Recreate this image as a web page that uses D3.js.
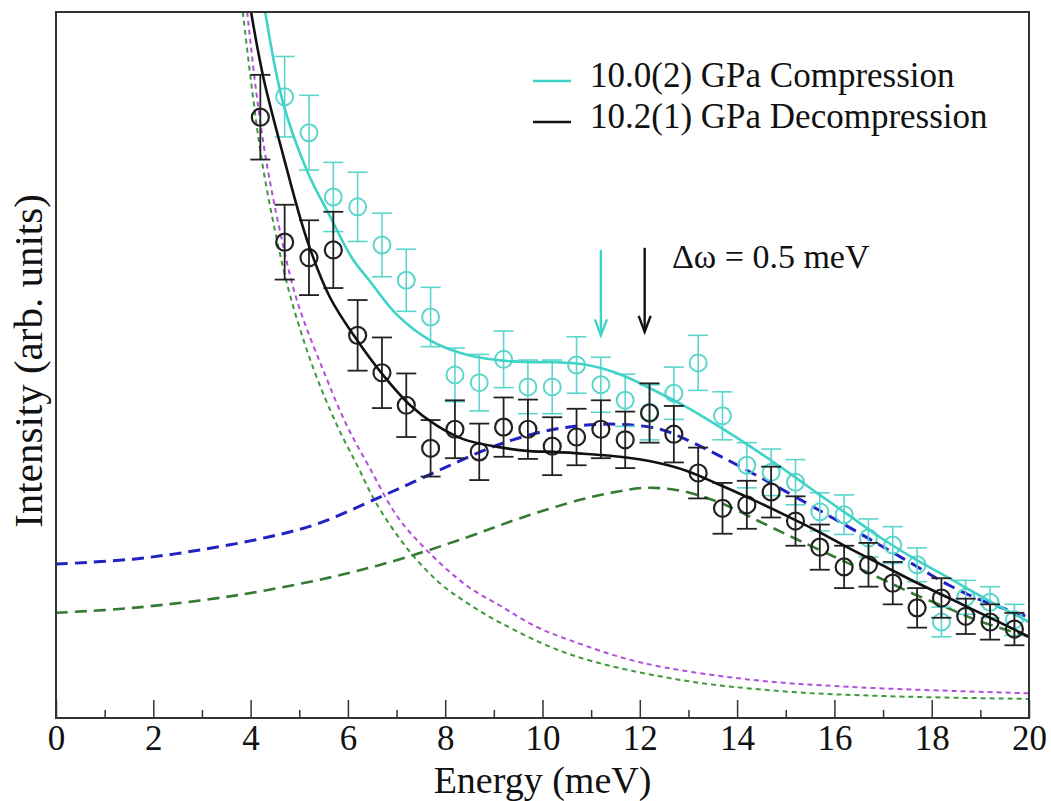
<!DOCTYPE html>
<html lang="en">
<head>
<meta charset="UTF-8">
<title>Intensity vs Energy</title>
<script src="https://d3js.org/d3.v7.min.js"></script>
<style>
  body { margin: 0; background: #fff; }
  text { font-family: "Liberation Serif", "Times New Roman", serif; fill: #111; }
  .tick text { font-size: 35px; }
  .x-label { font-size: 38px; }
  .y-label { font-size: 41px; }
  .legend text { font-size: 35px; }
  .note { font-size: 34px; }
</style>
</head>
<body>
<div id="chart"></div>
<script>
// ---- data (intensity in arbitrary units, 0..100 spans the plot) ----
const energyBlack = [4.2, 4.7, 5.2, 5.7, 6.2, 6.7, 7.2, 7.7, 8.2, 8.7, 9.2, 9.7, 10.2, 10.7, 11.2, 11.7,
                     12.2, 12.7, 13.2, 13.7, 14.2, 14.7, 15.2, 15.7, 16.2, 16.7, 17.2, 17.7, 18.2, 18.7, 19.2, 19.7];
const intensityBlack = [85.1, 67.4, 65.2, 66.3, 54.2, 48.9, 44.3, 38.2, 40.9, 37.7, 41.2, 40.9, 38.5, 39.8, 40.9, 39.4,
                        43.2, 40.2, 34.7, 29.7, 30.2, 32.0, 27.9, 24.2, 21.4, 21.7, 19.1, 15.6, 17.0, 14.4, 13.6, 12.6];
const errorBlack = [6.0, 5.3, 5.3, 5.4, 5.0, 5.0, 4.5, 4.0, 4.1, 4.0, 4.2, 4.2, 4.1, 4.0, 4.1, 4.0,
                    4.2, 4.0, 3.6, 3.6, 3.4, 3.6, 3.5, 3.2, 3.0, 3.1, 3.0, 2.8, 2.8, 2.5, 2.5, 2.3];

const energyCyan = [4.7, 5.2, 5.7, 6.2, 6.7, 7.2, 7.7, 8.2, 8.7, 9.2, 9.7, 10.2, 10.7, 11.2, 11.7, 12.2,
                    12.7, 13.2, 13.7, 14.2, 14.7, 15.2, 15.7, 16.2, 16.7, 17.2, 17.7, 18.2, 18.7, 19.2, 19.7];
const intensityCyan = [88.0, 82.9, 73.8, 72.4, 67.0, 62.0, 56.8, 48.6, 47.5, 50.8, 46.9, 46.9, 50.0, 47.2, 45.0, 43.3,
                       46.0, 50.3, 42.8, 35.8, 34.8, 33.4, 29.2, 28.8, 25.5, 24.5, 21.7, 13.6, 17.1, 16.4, 13.9];
const errorCyan = [5.7, 5.3, 4.9, 4.9, 4.5, 4.4, 4.2, 3.8, 4.0, 4.0, 3.8, 3.8, 4.0, 3.9, 3.7, 3.9,
                   3.7, 3.9, 3.4, 3.2, 3.3, 3.2, 2.7, 2.8, 2.7, 2.6, 2.4, 2.1, 2.4, 2.2, 2.2];

// fitted curves
const fitCyanE = [4.30, 4.67, 5.18, 5.63, 6.08, 6.45, 7.01, 7.69, 8.37, 9.07, 9.74, 10.22, 10.92, 11.59, 12.27,
                  12.97, 13.65, 14.33, 15.03, 15.70, 16.28, 16.96, 17.66, 18.36, 19.05, 20];
const fitCyanI = [100, 87.1, 77.2, 71.1, 65.2, 61.9, 57.1, 53.5, 51.6, 50.7, 50.4, 50.4, 50.0, 48.7, 46.5,
                  44.0, 41.2, 38.2, 34.9, 31.6, 28.8, 25.5, 22.5, 19.8, 17.1, 13.6];

const fitBlackE = [4.01, 4.26, 4.67, 5.16, 5.63, 6.19, 6.72, 7.28, 7.83, 8.37, 9.07, 9.74, 10.22, 10.92, 11.59,
                   12.27, 12.97, 13.65, 14.33, 15.03, 15.70, 16.26, 16.94, 17.62, 18.32, 18.99, 20];
const fitBlackI = [100, 90.8, 79.7, 67.7, 59.6, 53.5, 48.6, 44.3, 41.4, 39.5, 38.4, 37.8, 37.7, 37.4, 37.0,
                   36.3, 35.0, 33.0, 30.9, 28.6, 26.3, 24.2, 21.8, 19.4, 17.1, 14.9, 11.5];

const inelBlueE = [0, 1.58, 2.96, 4.34, 5.37, 6.66, 7.34, 8.04, 8.72, 9.39, 10.09, 10.77, 11.59, 12.42, 13.03,
                   13.65, 14.47, 15.36, 16.28, 16.96, 17.66, 18.36, 19.05, 20];
const inelBlueI = [21.8, 22.5, 23.8, 25.6, 27.5, 31.3, 33.4, 35.6, 37.7, 39.4, 40.7, 41.4, 41.6, 40.9, 39.2,
                   37.1, 34.1, 30.7, 27.1, 24.4, 21.6, 18.8, 16.6, 14.3];

const inelGreenE = [0, 1.58, 3.64, 5.69, 7.07, 8.45, 9.54, 10.77, 11.49, 12.11, 12.83, 13.65, 14.47, 15.29,
                    16.26, 16.94, 17.62, 18.32, 18.99, 20];
const inelGreenI = [14.9, 15.6, 17.3, 20.0, 22.5, 25.6, 28.3, 30.9, 32.0, 32.6, 32.2, 30.5, 27.8, 25.1,
                    22.0, 19.8, 17.6, 15.6, 13.7, 11.5];

const qeMagentaE = [3.93, 4.11, 4.32, 4.60, 4.95, 5.49, 5.98, 6.45, 7.01, 7.63, 8.45, 9.13, 9.85, 10.57,
                    12.00, 14.18, 16.34, 20];
const qeMagentaI = [100, 89.0, 79.0, 69.1, 59.2, 49.3, 41.4, 35.4, 28.6, 23.7, 18.7, 15.9, 13.0, 11.0,
                    7.9, 5.5, 4.4, 3.5];

const qeGreenE = [3.84, 4.03, 4.23, 4.50, 4.81, 5.28, 5.78, 6.19, 6.60, 7.28, 7.89, 8.45, 9.13, 10.57,
                  12.74, 14.90, 17.06, 20];
const qeGreenI = [100, 89.0, 79.0, 69.1, 59.9, 49.7, 41.4, 35.8, 30.2, 23.5, 19.1, 16.3, 13.5, 9.0,
                  5.5, 3.8, 3.1, 2.7];

const majorTicks = [0, 2, 4, 6, 8, 10, 12, 14, 16, 18, 20];
const minorTicks = [1, 3, 5, 7, 9, 11, 13, 15, 17, 19];

const legendLabels = ["10.0(2) GPa Compression", "10.2(1) GPa Decompression"];
const arrowEnergies = [11.2, 12.1];   // cyan, black
const arrowTops = [66.3, 66.6];
const arrowTips = [54.2, 54.7];

// ---- layout ----
const width = 1051, height = 801;
const margin = { top: 12, right: 22, bottom: 83, left: 56 };
const cyan = "#3ed3c6", black = "#111";

const svg = d3.select("#chart").append("svg")
  .attr("width", width).attr("height", height);

const x = d3.scaleLinear().domain([0, 20]).range([margin.left, width - margin.right]);
const y = d3.scaleLinear().domain([0, 100]).range([height - margin.bottom, margin.top]);

svg.append("clipPath").attr("id", "plot")
  .append("rect")
  .attr("x", margin.left).attr("y", margin.top)
  .attr("width", x(20) - x(0)).attr("height", y(0) - y(100));

const plot = svg.append("g").attr("clip-path", "url(#plot)");

const line = d3.line().x(d => x(d[0])).y(d => y(d[1])).curve(d3.curveCatmullRom.alpha(0.5));
const zip = (a, b) => a.map((v, i) => [v, b[i]]);

// dashed components
const dashed = [
  { pts: zip(qeGreenE, qeGreenI), color: "#3c9a3c", w: 2, dash: "5,4" },
  { pts: zip(qeMagentaE, qeMagentaI), color: "#b24fdc", w: 2, dash: "5,4" },
  { pts: zip(inelGreenE, inelGreenI), color: "#357a35", w: 2.6, dash: "12,7" },
  { pts: zip(inelBlueE, inelBlueI), color: "#2222c4", w: 3, dash: "12,7" }
];
plot.selectAll(".comp").data(dashed).enter().append("path")
  .attr("class", "comp")
  .attr("d", d => line(d.pts))
  .attr("fill", "none")
  .attr("stroke", d => d.color)
  .attr("stroke-width", d => d.w)
  .attr("stroke-dasharray", d => d.dash);

// error bars + circles
function drawSeries(es, vs, errs, color, sw) {
  const g = plot.append("g").attr("stroke", color).attr("fill", "none");
  const data = es.map((e, i) => ({ e: e, v: vs[i], err: errs[i] }));
  const pts = g.selectAll("g").data(data).enter().append("g");
  pts.append("line")
    .attr("x1", d => x(d.e)).attr("x2", d => x(d.e))
    .attr("y1", d => y(d.v + d.err)).attr("y2", d => y(d.v - d.err))
    .attr("stroke-width", sw);
  [1, -1].forEach(s => {
    pts.append("line")
      .attr("x1", d => x(d.e) - 10).attr("x2", d => x(d.e) + 10)
      .attr("y1", d => y(d.v + s * d.err)).attr("y2", d => y(d.v + s * d.err))
      .attr("stroke-width", sw);
  });
  pts.append("circle")
    .attr("cx", d => x(d.e)).attr("cy", d => y(d.v))
    .attr("r", 8.5)
    .attr("fill", "none")
    .attr("stroke-width", sw + 0.4);
}

drawSeries(energyCyan, intensityCyan, errorCyan, "#5cd6cc", 1.6);
plot.append("path").attr("d", line(zip(fitCyanE, fitCyanI)))
  .attr("fill", "none").attr("stroke", cyan).attr("stroke-width", 2.6);

drawSeries(energyBlack, intensityBlack, errorBlack, "#222", 1.8);
plot.append("path").attr("d", line(zip(fitBlackE, fitBlackI)))
  .attr("fill", "none").attr("stroke", black).attr("stroke-width", 2.6);

// arrows marking the excitation
const arrowColors = [cyan, black];
arrowEnergies.forEach((e, i) => {
  const g = svg.append("g").attr("stroke", arrowColors[i]).attr("stroke-width", 2.4).attr("fill", "none");
  const ax = x(e), top = y(arrowTops[i]), tip = y(arrowTips[i]);
  g.append("line").attr("x1", ax).attr("x2", ax).attr("y1", top).attr("y2", tip);
  g.append("path").attr("d", `M${ax - 6},${tip - 16} L${ax},${tip} L${ax + 6},${tip - 16}`);
});
svg.append("text").attr("class", "note")
  .attr("x", 672).attr("y", 268)
  .text("\u0394\u03c9 = 0.5 meV");

// frame
svg.append("rect")
  .attr("x", x(0)).attr("y", y(100))
  .attr("width", x(20) - x(0)).attr("height", y(0) - y(100))
  .attr("fill", "none").attr("stroke", "#333").attr("stroke-width", 2);

// axes (ticks point inward)
const xAxis = svg.append("g")
  .attr("transform", `translate(0,${y(0)})`)
  .call(d3.axisBottom(x).tickValues(majorTicks).tickSize(-18).tickPadding(7).tickFormat(d3.format("d")));
xAxis.attr("font-family", "Liberation Serif, serif").attr("font-size", 35);
xAxis.select(".domain").remove();
xAxis.selectAll(".tick line").attr("stroke", "#333").attr("stroke-width", 1.5);
xAxis.selectAll(".tick text").attr("fill", "#111");

const xMinor = svg.append("g")
  .attr("transform", `translate(0,${y(0)})`)
  .call(d3.axisBottom(x).tickValues(minorTicks).tickSize(-8).tickFormat(""));
xMinor.select(".domain").remove();
xMinor.selectAll(".tick line").attr("stroke", "#333").attr("stroke-width", 1.5);

svg.append("text").attr("class", "x-label")
  .attr("x", (x(0) + x(20)) / 2).attr("y", 793)
  .attr("text-anchor", "middle")
  .text("Energy (meV)");

svg.append("text").attr("class", "y-label")
  .attr("transform", "translate(42,361) rotate(-90)")
  .attr("text-anchor", "middle")
  .text("Intensity (arb. units)");

// legend
const legend = svg.append("g").attr("class", "legend");
const legendColors = [cyan, black];
legendLabels.forEach((lab, i) => {
  const ly = 81 + i * 41;
  legend.append("line")
    .attr("x1", 533).attr("x2", 571).attr("y1", ly).attr("y2", ly)
    .attr("stroke", legendColors[i]).attr("stroke-width", 2.6);
  legend.append("text").attr("x", 590).attr("y", ly + 6).text(lab);
});
</script>
</body>
</html>
